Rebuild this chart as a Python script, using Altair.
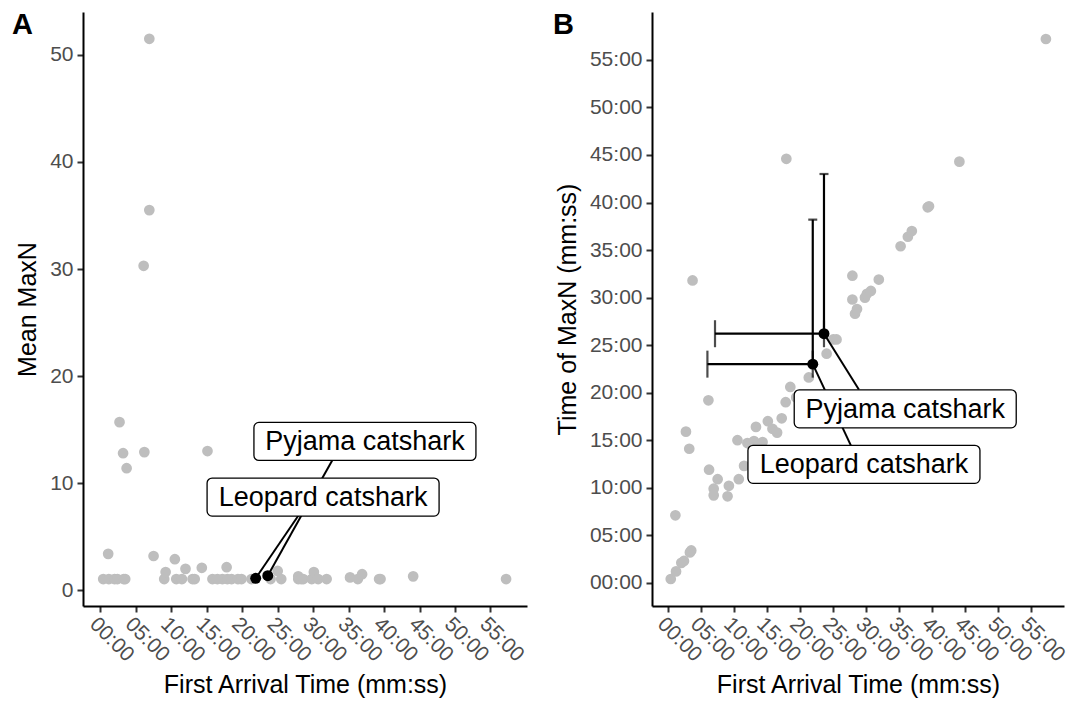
import altair as alt
import pandas as pd

# ---- gray points: all species (minutes) ----
arrival = [0.4, 1.1, 1.2, 2.0, 2.4, 2.7, 3.2, 3.3, 3.5, 3.7,
           6.1, 6.2, 6.9, 6.9, 7.5, 9.0, 9.2, 10.5, 10.7, 11.5,
           12.0, 13.0, 13.3, 14.3, 15.1, 15.8, 16.5, 17.2, 17.8, 17.9,
           18.5, 19.4, 19.9, 21.3, 24.0, 25.0, 25.5, 27.9, 27.9, 28.3,
           28.6, 29.8, 30.1, 30.7, 31.9, 35.2, 36.3, 36.9, 39.3, 39.5,
           44.1, 57.2]
mean_maxn = [1.05, 3.4, 1.05, 1.05, 1.05, 15.7, 12.8, 1.05, 1.05, 11.4,
             30.3, 12.9, 51.5, 35.5, 3.2, 1.05, 1.7, 2.9, 1.05, 1.05,
             2.0, 1.05, 1.05, 2.1, 13.0, 1.05, 1.05, 1.05, 2.15, 1.05,
             1.05, 1.05, 1.05, 1.05, 1.05, 1.8, 1.05, 1.05, 1.3, 1.05,
             1.05, 1.05, 1.7, 1.05, 1.05, 1.2, 1.05, 1.5, 1.05, 1.05,
             1.3, 1.05]
time_maxn = [0.4, 7.1, 1.2, 2.1, 2.3, 15.9, 14.1, 3.2, 3.4, 31.8,
             19.2, 11.9, 9.9, 9.2, 10.9, 9.1, 10.2, 15.0, 10.9, 12.3,
             14.7, 14.9, 16.4, 14.8, 17.0, 16.2, 15.8, 17.3, 19.0, 44.6,
             20.6, 19.5, 18.5, 21.6, 24.1, 25.6, 25.6, 32.3, 29.8, 28.3,
             28.8, 30.0, 30.4, 30.7, 31.9, 35.4, 36.4, 37.0, 39.5, 39.6,
             44.3, 57.2]

# ---- highlighted species ----
species = ["Leopard catshark", "Pyjama catshark"]
sp_arrival = [21.9, 23.6]
sp_arrival_lo = [5.95, 7.1]
sp_mean_maxn = [1.12, 1.36]
sp_time_maxn = [23.0, 26.2]
sp_time_maxn_hi = [38.2, 43.0]

# repelled label positions (data units) and segment ends
labA_x = [31.4, 37.3]
labA_y = [8.7, 13.9]
segA_x = [27.9, 32.7]
segA_y = [6.96, 12.15]
labB_x = [29.65, 35.9]
labB_y = [12.46, 18.3]
segB_x = [27.7, 28.9]
segB_y = [14.4, 20.3]

tick_minutes = list(range(0, 60, 5))
maxn_ticks = [0, 10, 20, 30, 40, 50]

pts = pd.DataFrame({"arr": arrival, "maxn": mean_maxn, "tmax": time_maxn})
sp = pd.DataFrame({
    "name": species, "arr": sp_arrival, "arr_lo": sp_arrival_lo,
    "maxn": sp_mean_maxn, "tmax": sp_time_maxn, "tmax_hi": sp_time_maxn_hi,
    "lax": labA_x, "lay": labA_y, "sax": segA_x, "say": segA_y,
    "lbx": labB_x, "lby": labB_y, "sbx": segB_x, "sby": segB_y,
})

FONT = "Liberation Sans"
mmss = "(datum.value < 10 ? '0' : '') + datum.value + ':00'"
GRAY = "#BEBEBE"

x_axis = alt.Axis(values=tick_minutes, labelExpr=mmss, labelAngle=45,
                  labelAlign="left", labelBaseline="top", labelPadding=1,
                  labelOverlap=False, titlePadding=7)
XT = "First Arrival Time (mm:ss)"


def xA(f):
    return alt.X(f"{f}:Q", title=XT, axis=x_axis,
                 scale=alt.Scale(domain=[-2.45, 60.15], nice=False, zero=False))


def yA(f):
    return alt.Y(f"{f}:Q", title="Mean MaxN",
                 axis=alt.Axis(values=maxn_ticks, titlePadding=9),
                 scale=alt.Scale(domain=[-1.47, 54.0], nice=False, zero=False))


def xB(f):
    return alt.X(f"{f}:Q", title=XT, axis=x_axis,
                 scale=alt.Scale(domain=[-2.44, 59.94], nice=False, zero=False))


def yB(f):
    return alt.Y(f"{f}:Q", title="Time of MaxN (mm:ss)",
                 axis=alt.Axis(values=tick_minutes, labelExpr=mmss, titlePadding=9,
                               labelOverlap=False),
                 scale=alt.Scale(domain=[-2.44, 60.04], nice=False, zero=False))


def panel(xf, yf, yfield, lxf, lyf, sxf, syf, tag, tagx, errors, w):
    base_pts = alt.Chart(pts).mark_circle(size=115, color=GRAY, opacity=1).encode(
        x=xf("arr"), y=yf(yfield))
    layers = [base_pts]
    if errors:
        v = alt.Chart(sp).mark_rule(color="black", strokeWidth=2.2).encode(
            x=xf("arr"), y=yf("tmax"), y2=alt.Y2("tmax_hi"))
        vcap = alt.Chart(sp).mark_tick(color="black", orient="horizontal", size=9,
                                       thickness=2.2).encode(x=xf("arr"), y=yf("tmax_hi"))
        h = alt.Chart(sp).mark_rule(color="black", strokeWidth=2.2).encode(
            x=xf("arr_lo"), x2=alt.X2("arr"), y=yf("tmax"))
        hcap1 = alt.Chart(sp).mark_tick(color="black", orient="vertical", size=27,
                                        thickness=2.2).encode(x=xf("arr_lo"), y=yf("tmax"))
        hcap2 = alt.Chart(sp).mark_tick(color="black", orient="vertical", size=27,
                                        thickness=2.2).encode(x=xf("arr"), y=yf("tmax"))
        layers += [v, vcap, h, hcap1, hcap2]
    blk = alt.Chart(sp).mark_circle(size=120, color="black", opacity=1).encode(
        x=xf("arr"), y=yf(yfield))
    seg = alt.Chart(sp).mark_rule(color="black", strokeWidth=2).encode(
        x=xf("arr"), y=yf(yfield), x2=alt.X2(sxf), y2=alt.Y2(syf))
    layers += [blk, seg]
    for nm, hw in [("Leopard catshark", 116), ("Pyjama catshark", 111)]:
        box = alt.Chart(sp).transform_filter(alt.datum.name == nm).mark_rect(
            fill="white", stroke="black", strokeWidth=1.3, cornerRadius=5,
            xOffset=-hw, x2Offset=hw, yOffset=-19, y2Offset=19).encode(
            x=xf(lxf), x2=alt.X2(lxf), y=yf(lyf), y2=alt.Y2(lyf))
        txt = alt.Chart(sp).transform_filter(alt.datum.name == nm).mark_text(
            font=FONT, fontSize=27, color="black", align="center",
            baseline="middle", dy=1).encode(x=xf(lxf), y=yf(lyf), text="name:N")
        layers += [box, txt]
    tagc = alt.Chart(pd.DataFrame({"t": [tag]})).mark_text(
        font=FONT, fontSize=29, fontWeight="bold", color="black", align="left",
        baseline="alphabetic").encode(text="t:N", x=alt.value(tagx), y=alt.value(22))
    layers.append(tagc)
    return alt.layer(*layers).properties(width=w, height=594)


pA = panel(xA, yA, "maxn", "lax", "lay", "sax", "say", "A", -71, False, 444)
pB = panel(xB, yB, "tmax", "lbx", "lby", "sbx", "sby", "B", -99, True, 412)

chart = alt.hconcat(pA, pB, spacing=25).properties(
    padding={"left": 12, "top": 11, "right": 0, "bottom": 0}
).configure_view(stroke=None).configure_axis(
    grid=False, labelFont=FONT, labelFontSize=21, labelColor="#4D4D4D",
    titleFont=FONT, titleFontSize=25, titleColor="black", titleFontWeight="normal",
    domainColor="black", domainWidth=2, tickColor="#333333", tickWidth=2, tickSize=6,
    labelPadding=4
)

chart.save("out.html", embed_options={"renderer": "svg", "actions": False})
